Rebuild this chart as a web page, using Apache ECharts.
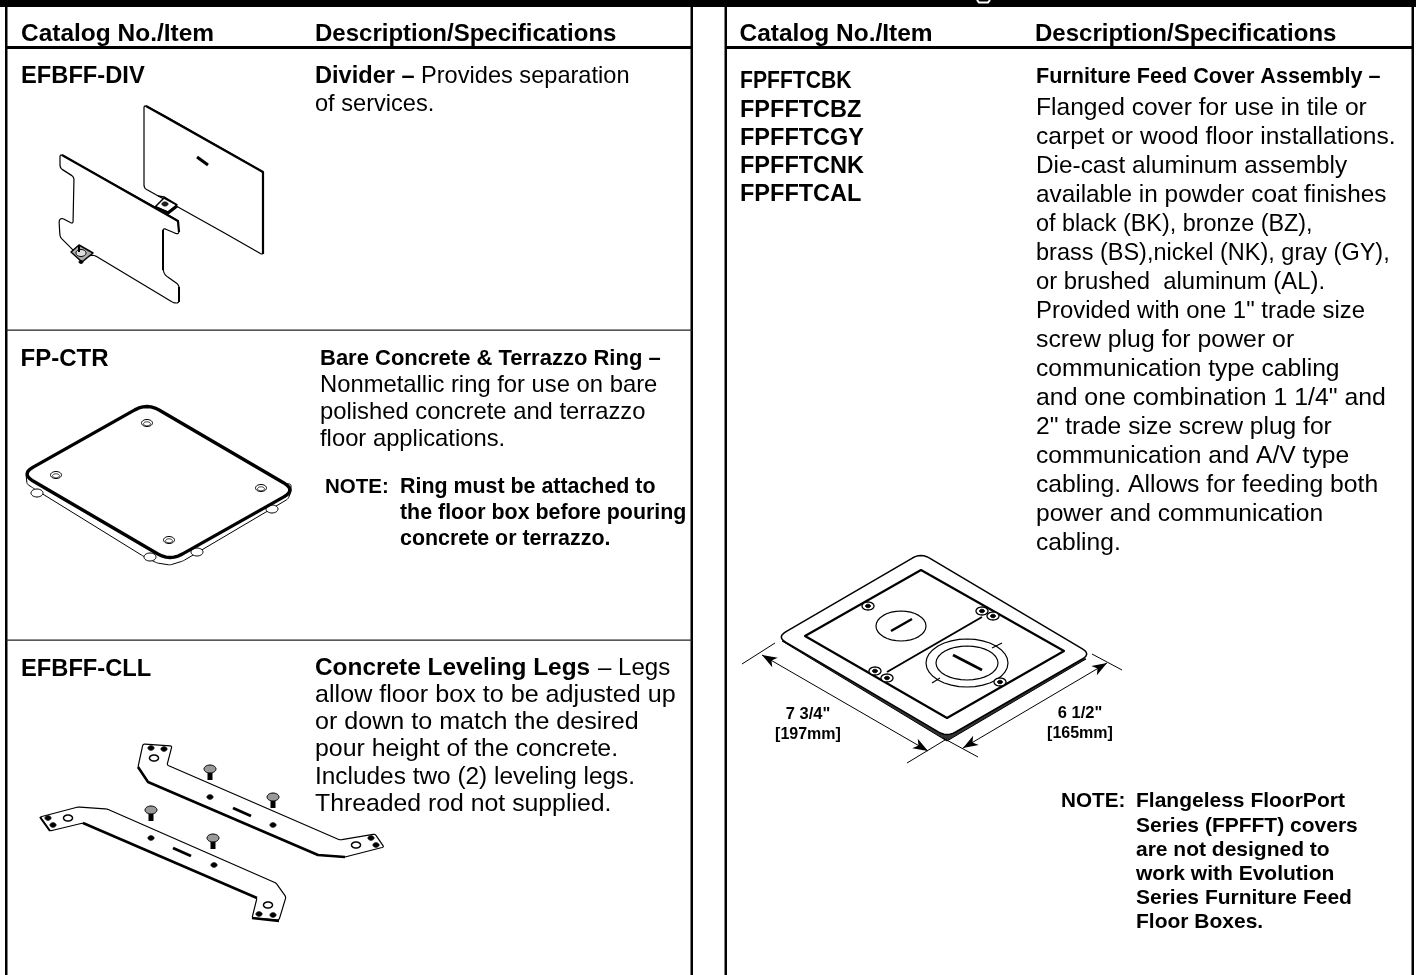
<!DOCTYPE html>
<html>
<head>
<meta charset="utf-8">
<title>Catalog accessories</title>
<script src="https://cdn.jsdelivr.net/npm/echarts@6/dist/echarts.min.js"></script>
<style>
  html, body { margin: 0; padding: 0; background: #fff; }
  #chart { width: 1416px; height: 975px; }
</style>
</head>
<body>
<div id="chart"></div>
<script>
// table text
const headerCols = ["Catalog No./Item", "Description/Specifications"];
const dividerItem = "EFBFF-DIV";
const dividerTitle = "Divider –";
const dividerLines = ["Provides separation", "of services."];
const ringItem = "FP-CTR";
const ringTitle = "Bare Concrete & Terrazzo Ring –";
const ringLines = ["Nonmetallic ring for use on bare", "polished concrete and terrazzo", "floor applications."];
const ringNote = ["Ring must be attached to", "the floor box before pouring", "concrete or terrazzo."];
const legsItem = "EFBFF-CLL";
const legsTitle = "Concrete Leveling Legs";
const legsLines = ["– Legs", "allow floor box to be adjusted up", "or down to match the desired", "pour height of the concrete.", "Includes two (2) leveling legs.", "Threaded rod not supplied."];
const coverItems = ["FPFFTCBK", "FPFFTCBZ", "FPFFTCGY", "FPFFTCNK", "FPFFTCAL"];
const coverTitle = "Furniture Feed Cover Assembly –";
const coverLines = [
  "Flanged cover for use in tile or", "carpet or wood floor installations.", "Die-cast aluminum assembly",
  "available in powder coat finishes", "of black (BK), bronze (BZ),", "brass (BS),nickel (NK), gray (GY),",
  "or brushed  aluminum (AL).", "Provided with one 1\" trade size", "screw plug for power or",
  "communication type cabling", "and one combination 1 1/4\" and", "2\" trade size screw plug for",
  "communication and A/V type", "cabling. Allows for feeding both", "power and communication", "cabling."
];
const coverNote = ["Flangeless FloorPort", "Series (FPFFT) covers", "are not designed to", "work with Evolution", "Series Furniture Feed", "Floor Boxes."];
const noteLabel = "NOTE:";
const dimLeft = ["7 3/4\"", "[197mm]"];
const dimRight = ["6 1/2\"", "[165mm]"];

const FONT = '"Liberation Sans", Arial, sans-serif';
const els = [];

// y is the text baseline
function txt(x, y, text, size, bold, sx, align) {
  els.push({
    type: "text", x: x, y: y - size * 0.35 + 2, scaleX: sx || 1, silent: true,
    style: {
      text: text, x: 0, y: 0, fill: "#000", verticalAlign: "middle",
      align: align || "left",
      font: (bold ? "bold " : "") + size + "px " + FONT
    }
  });
}
function line(pts, w, closed, fill) {
  els.push({
    type: closed ? "polygon" : "polyline", silent: true,
    shape: { points: pts },
    style: { stroke: "#000", lineWidth: w, fill: fill || (closed ? "#fff" : null), lineJoin: "round" }
  });
}
function rect(x, y, w, h, fill) {
  els.push({ type: "rect", silent: true, shape: { x: x, y: y, width: w, height: h }, style: { fill: fill || "#000" } });
}
function oval(cx, cy, rx, ry, w, fill) {
  const pts = [];
  for (let i = 0; i < 32; i++) {
    const a = i / 32 * Math.PI * 2;
    pts.push([cx + Math.cos(a) * rx, cy + Math.sin(a) * ry]);
  }
  line(pts, w, true, fill);
}
// polygon with rounded corners, sampled to points
function roundPts(pts, r) {
  const out = [];
  pts.forEach((p, i) => {
    const a = pts[(i + pts.length - 1) % pts.length], b = pts[(i + 1) % pts.length];
    const la = Math.hypot(a[0] - p[0], a[1] - p[1]), lb = Math.hypot(b[0] - p[0], b[1] - p[1]);
    const ra = Math.min(r, la / 2), rb = Math.min(r, lb / 2);
    const s = [p[0] + (a[0] - p[0]) * ra / la, p[1] + (a[1] - p[1]) * ra / la];
    const e = [p[0] + (b[0] - p[0]) * rb / lb, p[1] + (b[1] - p[1]) * rb / lb];
    for (let k = 0; k <= 6; k++) {
      const t = k / 6, q = 1 - t;
      out.push([q * q * s[0] + 2 * q * t * p[0] + t * t * e[0], q * q * s[1] + 2 * q * t * p[1] + t * t * e[1]]);
    }
  });
  return out;
}
function arrowHead(tip, from) {
  const l = Math.hypot(from[0] - tip[0], from[1] - tip[1]);
  const ux = (from[0] - tip[0]) / l, uy = (from[1] - tip[1]) / l;
  const bx = tip[0] + ux * 15, by = tip[1] + uy * 15;
  els.push({ type: "polygon", silent: true,
    shape: { points: [tip, [bx - uy * 5.5, by + ux * 5.5], [tip[0] + ux * 11, tip[1] + uy * 11], [bx + uy * 5.5, by - ux * 5.5]] },
    style: { fill: "#000" } });
}
function dimension(a, b) {
  line([a, b], 1);
  arrowHead(a, b);
  arrowHead(b, a);
}

// frame
rect(0, 0, 1416, 7);
rect(5, 0, 2.5, 975);
rect(690.5, 0, 2.5, 975);
rect(724.5, 0, 2.5, 975);
rect(1411.5, 0, 2.5, 975);
rect(6, 46, 686, 3);
rect(726, 46, 687, 3);
rect(6, 329.5, 686, 1.3, "#222");
rect(6, 639.5, 686, 1.3, "#222");
// bottom of the cut off page title
els.push({ type: "polyline", silent: true, shape: { points: [[977, 0], [979, 2.5], [988, 2.5], [990, 0]] }, style: { stroke: "#fff", lineWidth: 2, fill: null } });

// headers
txt(21, 41, headerCols[0], 24, true, 1.02);
txt(315, 41, headerCols[1], 24, true);
txt(739.5, 41, headerCols[0], 24, true, 1.02);
txt(1035, 41, headerCols[1], 24, true);

// divider row
txt(21, 83, dividerItem, 23.7, true);
txt(315, 83, dividerTitle, 23.6, true);
txt(421, 83, dividerLines[0], 23.6, false);
txt(315, 111, dividerLines[1], 23.6, false);

// ring row
txt(20.5, 366, ringItem, 24, true);
txt(320, 365, ringTitle, 22, true);
ringLines.forEach((s, i) => txt(320, 392 + i * 27, s, 23.8, false));
txt(325, 493, noteLabel, 20.5, true);
ringNote.forEach((s, i) => txt(400, 493 + i * 25.8, s, 21.4, true));

// legs row
const legsFit = [0.97, 1.014, 1.012, 1.004, 0.984, 1];
txt(21, 676, legsItem, 23.7, true);
txt(315, 675, legsTitle, 24.4, true);
legsLines.forEach((s, i) => i === 0 ? txt(598, 675, s, 24.8, false, legsFit[i]) : txt(315, 675 + i * 27.1, s, 24.8, false, legsFit[i]));

// cover column
const coverFit = [1, 1, 0.99, 0.99, 0.95, 0.955, 0.97, 0.973, 1.01, 1, 1.01, 1, 1, 1.005, 1, 1];
coverItems.forEach((s, i) => txt(740, 88 + i * 28.3, s, 23.5, true, i === 0 ? 0.9 : 1));
txt(1036, 83, coverTitle, 21.6, true);
coverLines.forEach((s, i) => txt(1036, 114.4 + i * 29, s, 24.6, false, coverFit[i]));
txt(1061, 807, noteLabel, 20.7, true);
coverNote.forEach((s, i) => txt(1136, 807 + i * 24.2, s, 21, true));
txt(808, 718, dimLeft[0], 16.5, true, 1, "center");
txt(808, 738, dimLeft[1], 16, true, 1, "center");
txt(1080, 717, dimRight[0], 16.5, true, 1, "center");
txt(1080, 737, dimRight[1], 16, true, 1, "center");

// divider drawing
line(roundPts([[144, 105], [167, 117], [239, 158], [263, 172], [263, 255], [228, 235], [178, 207], [144, 188]], 3), 1.2, true);
line([[146, 106], [263, 172], [263, 254]], 2.2);
line([[197, 157], [208, 165]], 3);
line([[158, 196], [164, 197], [177, 205]], 1.5);
line(roundPts([[60, 154], [155, 207], [178, 221], [179, 233], [177, 234], [163, 228], [163, 270], [165, 275], [179, 285], [179, 303], [174, 303], [94, 255], [80, 257], [60, 237], [59, 220], [62, 218], [73, 224], [74, 177], [60, 168]], 3), 1.2, true);
line([[62, 155], [178, 221], [179, 232]], 2.2);
line([[163, 230], [163, 270]], 2);
line([[179, 287], [179, 302]], 2);
line([[155, 207], [164, 198], [177, 205], [168, 212]], 1.5, true);
line([[155, 207], [168, 213], [177, 206]], 3);
oval(165, 204, 3, 2, 1, "#222");
line([[71, 252], [79, 245], [93, 253], [82, 262]], 1.5, true, "#aaa");
oval(81, 253, 5, 3.5, 1, "#ddd");
line([[79, 246], [79, 252]], 2);
oval(81, 262, 2, 1.5, 1, "#000");

// ring drawing
line(roundPts([[26, 474], [27, 484], [33, 488], [143, 556], [157, 563], [170, 565], [183, 561], [288, 499], [291, 492], [291, 484]], 2), 1, true);
[[37, 493], [150, 557], [197, 552], [272, 509]].forEach((p) => oval(p[0], p[1], 6, 4, 1));
line(roundPts([[147, 403], [21, 474], [170, 561], [296, 490]], 14), 3.4, true);
[[147, 423], [56, 475], [261, 488], [169, 540]].forEach((p) => {
  oval(p[0], p[1], 5.5, 3.5, 1);
  oval(p[0], p[1] + 0.8, 3.5, 2, 0.8);
});

// legs drawing
function leg(outline, thick, small, big, label, screws) {
  line(roundPts(outline, 2), 1.2, true);
  line(thick, 2.6);
  small.forEach((p) => oval(p[0], p[1], 3, 2.2, 1, "#000"));
  big.forEach((p) => { oval(p[0], p[1], 4.5, 3, 1.5); });
  line(label, 3);
  screws.forEach((p) => {
    line([p, [p[0], p[1] + 11]], 5);
    oval(p[0], p[1], 6, 4, 1, "#999");
  });
}
leg([[143, 744], [172, 746], [167, 765], [340, 840], [375, 834], [384, 847], [345, 857], [318, 855], [148, 782], [138, 767]],
  [[138, 767], [148, 782], [318, 855], [345, 857]],
  [[151, 748], [164, 749], [210, 797], [273, 825], [371, 838], [376, 845]],
  [[154, 758], [356, 845]],
  [[233, 808], [251, 816]],
  [[210, 769], [273, 797]]);
leg([[40, 817], [78, 807], [107, 809], [276, 883], [286, 897], [279, 920], [252, 918], [257, 898], [83, 823], [50, 831]],
  [[83, 823], [257, 898]],
  [[48, 818], [53, 825], [151, 838], [214, 865], [259, 914], [273, 915]],
  [[68, 818], [268, 905]],
  [[173, 848], [191, 856]],
  [[151, 810], [213, 838]]);
line([[252, 918], [279, 921]], 2.4);
line([[40, 817], [50, 831]], 2);

// cover drawing
line([[782, 641], [942, 738], [947, 741], [952, 738], [1086, 659]], 1, true, "#333");
line(roundPts([[921, 553], [777, 637], [947, 737], [1091, 654]], 10), 1.5, true);
line([[921, 570], [805, 636], [947, 718], [1064, 651]], 2.2, true);
line([[982, 617], [887, 672]], 2);
oval(901, 626, 25, 15, 1.2);
line([[891, 631], [912, 619]], 2.4);
oval(967, 663, 41, 24, 1.2);
oval(967, 663, 31, 17, 1.2);
line([[953, 655], [982, 670]], 2.6);
line([[992, 648], [1002, 643]], 1.2);
line([[940, 678], [932, 683]], 1.2);
[[868, 606], [982, 611], [993, 616], [875, 671], [887, 678], [1000, 682]].forEach((p) => {
  oval(p[0], p[1], 6, 4, 1.3);
  oval(p[0], p[1], 2.5, 1.7, 1, "#000");
});
line([[742, 664], [775, 643]], 1);
line([[907, 763], [945, 740]], 1);
line([[1092, 654], [1122, 670]], 1);
line([[943, 738], [978, 757]], 1);
dimension([762, 655], [928, 751]);
dimension([1107, 663], [963, 748]);

const chart = echarts.init(document.getElementById("chart"), null, { renderer: "canvas" });
chart.setOption({
  animation: false,
  backgroundColor: "#fff",
  graphic: { elements: els }
});
</script>
</body>
</html>
